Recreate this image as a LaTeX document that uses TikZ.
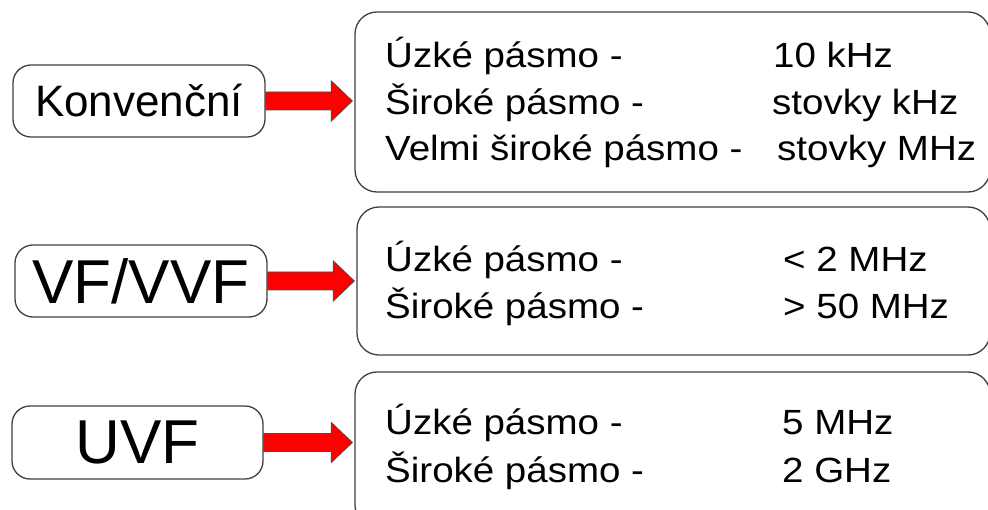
\documentclass[tikz,border=0pt]{standalone}
\usepackage{fontspec}
\setmainfont{Liberation Sans}
\newfontfamily\rfont[FakeStretch=1.1]{Liberation Sans}
\usetikzlibrary{calc}
\tikzset{
  lbox/.style={draw=black!75, line width=1.3pt, rounded corners=18pt, fill=white, inner sep=0pt},
  rbox/.style={draw=black!75, line width=1.3pt, rounded corners=22pt, fill=white, inner sep=0pt},
  rtext/.style={anchor=base west, inner sep=0pt, font=\rfont\fontsize{35}{40}\selectfont},
  redarrow/.style={fill=red, draw=black!70, line width=0.8pt, line join=miter}
}
\newcommand{\bigarrow}[2]{%
  \coordinate (s) at (#1);
  \coordinate (t) at ($(#2 |- #1)+(-2,0)$);
  \draw[redarrow] ($(s)+(0,-9)$) -- ($(t)+(-21,-9)$) -- ($(t)+(-21,-20)$) -- (t)
     -- ($(t)+(-21,20)$) -- ($(t)+(-21,9)$) -- ($(s)+(0,9)$) -- cycle;}
\begin{document}
\begin{tikzpicture}[x=1pt,y=-1pt]
\useasboundingbox (0,0) rectangle (988,510);
\clip (0,0) rectangle (988,510);
\fill[white] (0,0) rectangle (988,510);

% left boxes
\node[lbox, minimum width=252pt, minimum height=72pt, font=\fontsize{44}{50}\selectfont] (k) at (139,101) {Konvenční};
\node[lbox, minimum width=252pt, minimum height=72pt, font=\fontsize{62}{70}\selectfont] (v) at (141,281) {VF/VVF};
\node[lbox, minimum width=251pt, minimum height=73pt, font=\fontsize{62}{70}\selectfont] (u) at (137.5,442.5) {UVF};

% right boxes
\node[rbox, minimum width=635pt, minimum height=180pt] (r1) at (672.5,102) {};
\node[rbox, minimum width=633pt, minimum height=148pt] (r2) at (673.5,281) {};
\node[rbox, minimum width=635pt, minimum height=155pt] (r3) at (672.5,449.5) {};

% arrows
\bigarrow{k.east}{r1.west}
\bigarrow{v.east}{r2.west}
\bigarrow{u.east}{r3.west}

% texts box 1
\node[rtext] (a1) at (385,68) {Úzké pásmo -};
\node[rtext] (a2) at (385,115) {Široké pásmo -};
\node[rtext] (a3) at (385,161) {Velmi široké pásmo -};
\node[rtext] (b1) at (773,68) {10 kHz};
\node[rtext] (b2) at (772,115) {stovky kHz};
\node[rtext] (b3) at (777,161) {stovky MHz};

% texts box 2
\node[rtext] (c1) at (385,272) {Úzké pásmo -};
\node[rtext] (c2) at (385,319) {Široké pásmo -};
\node[rtext] (d1) at (783,272) {< 2 MHz};
\node[rtext] (d2) at (783,319) {> 50 MHz};

% texts box 3
\node[rtext] (e1) at (385,435) {Úzké pásmo -};
\node[rtext] (e2) at (385,482) {Široké pásmo -};
\node[rtext] (f1) at (782,435) {5 MHz};
\node[rtext] (f2) at (782,482) {2 GHz};
\end{tikzpicture}
\end{document}
